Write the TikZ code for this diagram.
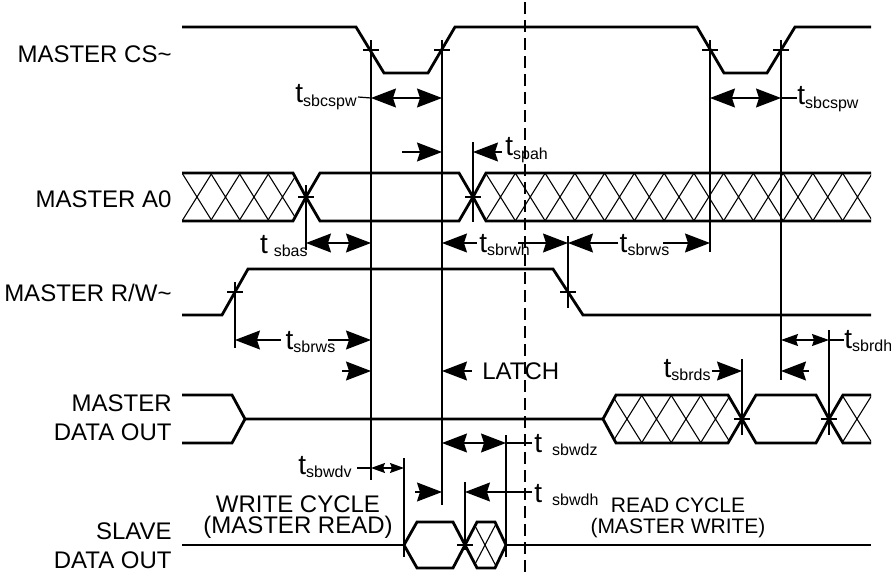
\documentclass[tikz,border=0pt]{standalone}
\usepackage{fontspec}
\setmainfont{Liberation Sans}
\usetikzlibrary{arrows.meta}
\newcommand{\tcote}[2][0pt]{{\fontsize{14}{16}\selectfont t}\hspace{#1}\textsubscript{#2}}

\begin{document}
\begin{tikzpicture}[x=0.5pt,y=-0.5pt]
	% Styles
	\tikzstyle{signal}=[line width=1.4pt,line join=miter]
	\tikzstyle{repere}=[line width=0.6pt]
	\tikzstyle{hachure}=[line width=0.55pt]
	\tikzstyle{fleche}=[line width=0.6pt,-{Stealth[length=12.5pt,width=9.5pt,inset=1.5pt]}]
	\tikzstyle{cote}=[line width=0.6pt,{Stealth[length=12.5pt,width=9.5pt,inset=1.5pt]}-{Stealth[length=12.5pt,width=9.5pt,inset=1.5pt]}]
	\tikzstyle{petitecote}=[line width=0.6pt,{Stealth[length=8.5pt,width=6pt,inset=1pt]}-{Stealth[length=8.5pt,width=6pt,inset=1pt]}]
	\tikzstyle{minicote}=[line width=0.6pt,{Stealth[length=7pt,width=5pt,inset=1pt]}-{Stealth[length=7pt,width=5pt,inset=1pt]}]
	\tikzstyle{nom}=[anchor=east,align=right,inner sep=0pt,font=\fontsize{12}{14.5}\selectfont]
	\tikzstyle{etiquette}=[inner sep=0pt,font=\fontsize{12}{14.5}\selectfont]
	\tikzstyle{cycle}=[inner sep=0pt,align=center,font=\fontsize{12}{10.5}\selectfont]
	% Niveaux
	\def\csH{27}\def\csB{73}
	\def\aH{173}\def\aM{197}\def\aB{221}
	\def\rwH{269}\def\rwB{315}
	\def\dH{395}\def\dM{419}\def\dB{443}
	\def\sH{522}\def\sM{545}\def\sB{568}
	\def\xDeb{182}\def\xFin{871}
	\useasboundingbox (0,0) rectangle (891,573);
	% Noms des signaux
	\node[nom] (nCS) at (172,54) {MASTER CS\textasciitilde};
	\node[nom] (nA0) at (172,199) {MASTER A0};
	\node[nom] (nRW) at (172,293) {MASTER R/W\textasciitilde};
	\node[nom] (nMD) at (172,418) {MASTER\\DATA OUT};
	\node[nom] (nSD) at (172,546) {SLAVE\\DATA OUT};
	% Limite des cycles
	\draw[line width=0.7pt,dash pattern=on 6pt off 3pt] (525,2) -- (525,573);
	% MASTER CS~
	\draw[signal] (\xDeb,\csH) -- (356,\csH) -- (384,\csB) -- (428,\csB) -- (455,\csH)
		-- (697,\csH) -- (724,\csB) -- (767,\csB) -- (795,\csH) -- (\xFin,\csH);
	% MASTER A0
	\begin{scope}
		\clip (\xDeb,\aH) -- (293,\aH) -- (306,\aM) -- (293,\aB) -- (\xDeb,\aB) -- cycle;
		\foreach \c in {197,225.5,...,300}
			\draw[hachure] (\c-15,\aH) -- (\c+15,\aB) (\c-15,\aB) -- (\c+15,\aH);
	\end{scope}
	\begin{scope}
		\clip (473,\aM) -- (486,\aH) -- (\xFin,\aH) -- (\xFin,\aB) -- (486,\aB) -- cycle;
		\foreach \c in {500.5,530.25,...,880}
			\draw[hachure] (\c-15,\aH) -- (\c+15,\aB) (\c-15,\aB) -- (\c+15,\aH);
	\end{scope}
	\draw[signal] (\xDeb,\aH) -- (293,\aH) -- (306,\aM) -- (293,\aB) -- (\xDeb,\aB);
	\draw[signal] (306,\aM) -- (320,\aH) -- (459,\aH) -- (473,\aM) -- (459,\aB) -- (320,\aB) -- cycle;
	\draw[signal] (\xFin,\aH) -- (486,\aH) -- (473,\aM) -- (486,\aB) -- (\xFin,\aB);
	% MASTER R/W~
	\draw[signal] (\xDeb,\rwB) -- (222,\rwB) -- (248,\rwH) -- (553,\rwH) -- (583,\rwB) -- (\xFin,\rwB);
	% MASTER DATA OUT
	\begin{scope}
		\clip (603,\dM) -- (616,\dH) -- (728,\dH) -- (742,\dM) -- (728,\dB) -- (616,\dB) -- cycle;
		\foreach \c in {627,656.5,...,740}
			\draw[hachure] (\c-15,\dH) -- (\c+15,\dB) (\c-15,\dB) -- (\c+15,\dH);
	\end{scope}
	\begin{scope}
		\clip (829,\dM) -- (843,\dH) -- (\xFin,\dH) -- (\xFin,\dB) -- (843,\dB) -- cycle;
		\draw[hachure] (842,\dH) -- (872,\dB) (842,\dB) -- (872,\dH);
	\end{scope}
	\draw[signal] (\xDeb,\dH) -- (232,\dH) -- (245,\dM) -- (603,\dM);
	\draw[signal] (\xDeb,\dB) -- (232,\dB) -- (245,\dM);
	\draw[signal] (603,\dM) -- (616,\dH) -- (728,\dH) -- (742,\dM) -- (728,\dB) -- (616,\dB) -- cycle;
	\draw[signal] (742,\dM) -- (756,\dH) -- (816,\dH) -- (829,\dM) -- (816,\dB) -- (756,\dB) -- cycle;
	\draw[signal] (\xFin,\dH) -- (843,\dH) -- (829,\dM) -- (843,\dB) -- (\xFin,\dB);
	% SLAVE DATA OUT
	\begin{scope}
		\clip (465,\sM) -- (477,\sH) -- (495,\sH) -- (506,\sM) -- (495,\sB) -- (477,\sB) -- cycle;
		\draw[hachure] (473,\sH) -- (497,\sB) (473,\sB) -- (497,\sH);
	\end{scope}
	\draw[signal] (\xDeb,\sM) -- (404,\sM);
	\draw[signal] (404,\sM) -- (417,\sH) -- (453,\sH) -- (465,\sM) -- (453,\sB) -- (417,\sB) -- cycle;
	\draw[signal] (465,\sM) -- (477,\sH) -- (495,\sH) -- (506,\sM) -- (495,\sB) -- (477,\sB) -- cycle;
	\draw[signal] (506,\sM) -- (\xFin,\sM);
	% Reperes verticaux
	\draw[repere] (371,40) -- (371,480) (363,50) -- (379,50);
	\draw[repere] (442,40) -- (442,505) (434,50) -- (450,50);
	\draw[repere] (710,40) -- (710,252) (702,50) -- (718,50);
	\draw[repere] (781,40) -- (781,380) (773,50) -- (789,50);
	\draw[repere] (306,185) -- (306,250) (298,\aM) -- (314,\aM);
	\draw[repere] (473,142) -- (473,222) (465,\aM) -- (481,\aM);
	\draw[repere] (235,282) -- (235,348) (227,292) -- (243,292);
	\draw[repere] (568,236) -- (568,308) (560,292) -- (576,292);
	\draw[repere] (742,359) -- (742,435) (734,\dM) -- (750,\dM);
	\draw[repere] (829,330) -- (829,435) (821,\dM) -- (837,\dM);
	\draw[repere] (404,458) -- (404,557);
	\draw[repere] (465,482) -- (465,550) (457,\sM) -- (473,\sM);
	\draw[repere] (506,435) -- (506,557);
	% Cotes
	\node[etiquette,anchor=east] (sbcspwA) at (358,97) {\tcote{sbcspw}};
	\draw[repere] (sbcspwA.east) -- (371,98);
	\draw[cote] (371,98) -- (442,98);
	\node[etiquette,anchor=west] (sbcspwB) at (797,99) {\tcote{sbcspw}};
	\draw[cote] (710,98) -- (781,98);
	\draw[repere] (781,98) -- (sbcspwB.west |- 0,98);
	\draw[fleche] (402,152) -- (442,152);
	\node[etiquette,anchor=west] (spah) at (505,150) {\tcote{spah}};
	\draw[fleche] (502,152) -- (473,152);
	\node[etiquette,anchor=east] (sbas) at (309,246) {\tcote[3pt]{sbas}};
	\draw[cote] (306,243) -- (371,243);
	\node[etiquette] (sbrwh) at (505,245) {\tcote{sbrwh}};
	\draw[fleche] (477,243) -- (442,243);
	\draw[fleche] (518,243) -- (568,243);
	\node[etiquette] (sbrwsA) at (645,245) {\tcote{sbrws}};
	\draw[fleche] (618,243) -- (568,243);
	\draw[fleche] (663,243) -- (710,243);
	\node[etiquette] (sbrwsB) at (311,342) {\tcote{sbrws}};
	\draw[fleche] (281,340) -- (235,340);
	\draw[fleche] (328,340) -- (371,340);
	\draw[fleche] (342,371) -- (371,371);
	\node[etiquette,anchor=west] (latch) at (482,371) {LATCH};
	\draw[fleche] (472,371) -- (442,371);
	\node[etiquette,anchor=east] (sbrds) at (712,370) {\tcote{sbrds}};
	\draw[fleche] (sbrds.east |- 0,371) -- (742,371);
	\node[etiquette,anchor=west] (sbrdh) at (844,341) {\tcote{sbrdh}};
	\draw[petitecote] (781,340) -- (829,340);
	\draw[repere] (829,340) -- (sbrdh.west |- 0,340);
	\draw[fleche] (809,371) -- (781,371);
	\node[etiquette,anchor=east] (sbwdv) at (353,467) {\tcote{sbwdv}};
	\draw[repere] (357,468) -- (371,468);
	\draw[minicote] (371,468) -- (404,468);
	\node[etiquette,anchor=west] (sbwdz) at (534,445) {\tcote[5pt]{sbwdz}};
	\draw[cote] (442,443) -- (506,443);
	\draw[repere] (506,443) -- (532,443);
	\draw[fleche] (415,492) -- (442,492);
	\node[etiquette,anchor=west] (sbwdh) at (534,495) {\tcote[5pt]{sbwdh}};
	\draw[fleche] (532,492) -- (465,492);
	% Cycles
	\node[cycle] (ecriture) at (298,517) {WRITE CYCLE\\(MASTER READ)};
	\node[cycle,font=\fontsize{10.5}{10.5}\selectfont] (lecture) at (678,518) {READ CYCLE\\(MASTER WRITE)};
\end{tikzpicture}
\end{document}
